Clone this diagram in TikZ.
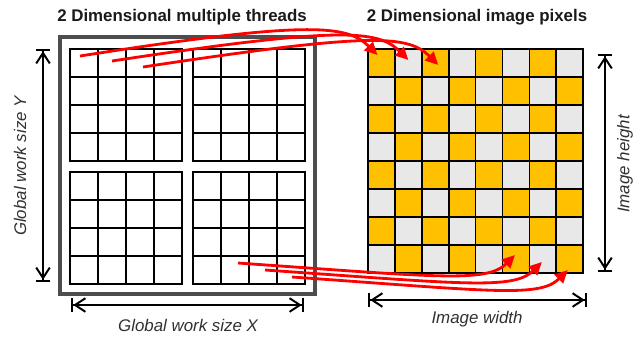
\documentclass[tikz,border=0pt]{standalone}
\usepackage{fontspec}
\setmainfont{Liberation Sans}
\usetikzlibrary{arrows.meta,calc}
\definecolor{gold}{HTML}{FFC000}
\definecolor{pale}{HTML}{E8E8E8}
\definecolor{framegray}{HTML}{4D4D4D}
\definecolor{ink}{HTML}{1A1A1A}
\definecolor{wire}{HTML}{FF0000}
\tikzset{
  thcell/.style={draw=black,line width=1.4pt,minimum width=7mm,minimum height=7mm,inner sep=0pt,outer sep=0pt},
  pxcell/.style={draw=black,line width=1.2pt,minimum width=6.725mm,minimum height=7mm,inner sep=0pt,outer sep=0pt},
  frame/.style={draw=framegray,line width=2.2pt,minimum width=6.375cm,minimum height=6.425cm,inner sep=0pt},
  title/.style={font=\bfseries\fontsize{12}{14}\selectfont,text=ink},
  lbl/.style={font=\itshape\fontsize{12}{14}\selectfont,text=ink!90},
  dim/.style={line width=1.3pt,{Bar[width=3.6mm,line width=1.6pt]Straight Barb[length=2.6mm,width=3.4mm,line width=1.4pt]}-{Straight Barb[length=2.6mm,width=3.4mm,line width=1.4pt]Bar[width=3.6mm,line width=1.6pt]}},
  map/.style={-{Triangle[length=3.2mm,width=3mm]},line width=2pt,color=wire},
}

\begin{document}
\begin{tikzpicture}[x=0.025cm,y=-0.025cm]
  \useasboundingbox (0,0) rectangle (643,337);
  % titles
  \node[title] (ttl) at (182,17) {2 Dimensional multiple threads};
  \node[title] (ptl) at (477,17) {2 Dimensional image pixels};
  % thread blocks
  \foreach \blk/\bx/\by in {a/70/49,b/193/49,c/70/172,d/193/172}
    \foreach \i in {1,...,4}
      \foreach \j in {1,...,4}
        {\node[thcell] (\blk-\i-\j) at ({\bx+28*\j-14},{\by+28*\i-14}) {};}
  \node[frame] (frm) at (187.5,165.5) {};
  % pixel grid
  \foreach \i in {1,...,8}
    \foreach \j in {1,...,8}
      {\ifodd\numexpr\i+\j\relax\def\fc{pale}\else\def\fc{gold}\fi
       \node[pxcell,fill=\fc] (p-\i-\j) at ({368+26.9*(\j-0.5)},{49+28*(\i-0.5)}) {};}
  % sizes
  \coordinate (yhi) at (43,49);
  \coordinate (ylo) at (43,282);
  \coordinate (xlo) at (71,305);
  \coordinate (xhi) at (304,305);
  \coordinate (hhi) at (605,54);
  \coordinate (hlo) at (605,272);
  \coordinate (wlo) at (368,300);
  \coordinate (whi) at (587,300);
  \draw[dim] (ylo) -- (yhi);
  \draw[dim] (xlo) -- (xhi);
  \draw[dim] (hlo) -- (hhi);
  \draw[dim] (wlo) -- (whi);
  \node[lbl,rotate=90] (ylab) at (20,166) {Global work size Y};
  \node[lbl] (xlab) at (188,325) {Global work size X};
  \node[lbl,rotate=90] (hlab) at (625,164) {Image height};
  \node[lbl] (wlab) at (477,319) {Image width};
  % thread -> pixel
  \draw[map] ([shift={(-4,-7)}]a-1-1.center) .. controls +(230,-36) and +(-30,-30) .. ([shift={(-4,-8)}]p-1-1.center);
  \draw[map] ([shift={(0,-2)}]a-1-2.center) .. controls +(230,-35) and +(-30,-30) .. ([shift={(0,-3)}]p-1-2.center);
  \draw[map] ([shift={(3,4)}]a-1-3.center) .. controls +(230,-35) and +(-30,-30) .. ([shift={(3,2)}]p-1-3.center);
  \draw[map] ([shift={(3,-7)}]d-4-2.center) .. controls +(200,14) and +(-28,28) .. ([shift={(-1,-4)}]p-8-6.center);
  \draw[map] ([shift={(2,0)}]d-4-3.center) .. controls +(200,14) and +(-28,28) .. ([shift={(-1,3)}]p-8-7.center);
  \draw[map] ([shift={(1,7)}]d-4-4.center) .. controls +(200,14) and +(-28,28) .. ([shift={(-2,11)}]p-8-8.center);
\end{tikzpicture}
\end{document}
